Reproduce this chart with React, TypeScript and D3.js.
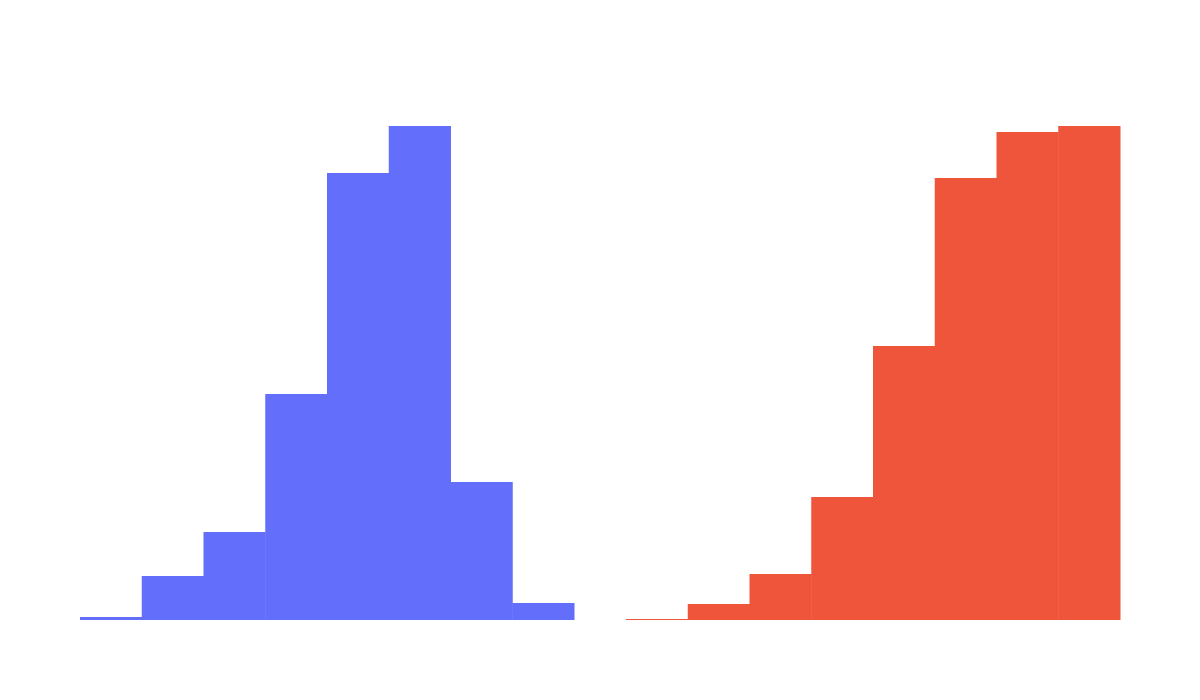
import React, { useRef, useEffect } from 'react';
import * as d3 from 'd3';

// bin counts
const leftCounts = [3, 44, 88, 226, 447, 494, 138, 17];
const rightCounts = [1, 16, 46, 123, 274, 442, 488, 494];

const W = 1200;
const H = 700;

const drawHist = (
    g: d3.Selection<SVGGElement, unknown, null, undefined>,
    counts: number[],
    x0: number,
    x1: number,
    color: string
): void => {
    const x = d3.scaleBand<number>()
        .domain(counts.map((_, i) => i))
        .range([x0, x1])
        .padding(0);
    const y = d3.scaleLinear()
        .domain([0, d3.max(counts) as number])
        .range([620, 126]);

    g.selectAll(null)
        .data(counts)
        .enter().append('rect')
        .attr('x', (_, i) => x(i)!)
        .attr('y', d => y(d))
        .attr('width', x.bandwidth() + 0.5)
        .attr('height', d => 620 - y(d))
        .attr('fill', color);
};

const App: React.FC = () => {
    const ref = useRef<SVGSVGElement>(null);

    useEffect(() => {
        if (!ref.current) return;
        const svg = d3.select(ref.current);
        svg.selectAll('*').remove();
        const g = svg.append('g');
        drawHist(g, leftCounts, 80, 574, '#636efa');
        drawHist(g, rightCounts, 626, 1120, '#ef553b');
    }, []);

    return (
        <svg
            ref={ref}
            width={W}
            height={H}
            style={{ position: 'absolute', left: 0, top: 0, background: '#fff' }}
        />
    );
};

export default App;
